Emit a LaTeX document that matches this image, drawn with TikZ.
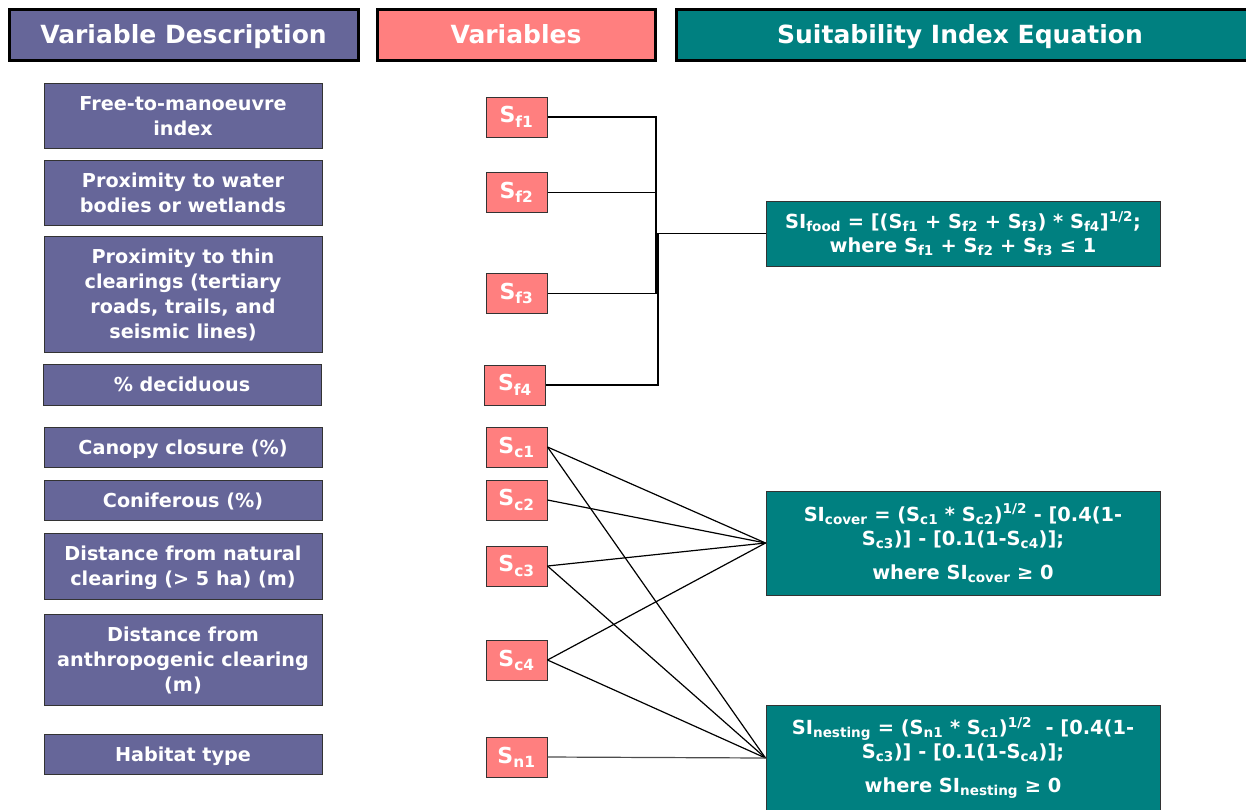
\documentclass[tikz,border=0pt]{standalone}
\usepackage{fontspec}
\setmainfont{DejaVu Sans}
\definecolor{descfill}{HTML}{666699}
\definecolor{varfill}{HTML}{FF7F7F}
\definecolor{eqfill}{HTML}{008080}
\definecolor{edgegray}{HTML}{333333}
\newcommand\lo[1]{\textsubscript{#1}}
\newcommand\hi[1]{\textsuperscript{#1}}
\begin{document}
\begin{tikzpicture}[x=1pt,y=-1pt,
  header/.style={draw=black,line width=3pt,inner sep=0pt,text=white,
    text depth=0pt,font=\fontsize{25}{30}\selectfont\bfseries},
  descbox/.style={draw=edgegray,line width=1pt,fill=descfill,inner sep=0pt,
    text=white,align=center,text depth=0pt,
    font=\fontsize{19.2}{25}\selectfont\bfseries},
  varbox/.style={draw=edgegray,line width=1pt,fill=varfill,inner sep=0pt,
    text=white,minimum width=61pt,minimum height=40pt,
    font=\fontsize{22}{25}\selectfont\bfseries},
  eqbox/.style={draw=edgegray,line width=1pt,fill=eqfill,inner sep=0pt,
    text=white,align=center,minimum width=394pt,
    font=\fontsize{19.4}{25}\selectfont\bfseries},
  link/.style={draw=black,line width=1.2pt}]
\useasboundingbox (0,0) rectangle (1246,809);

% column headers
\node[header,fill=descfill,minimum width=349pt,minimum height=51pt] (hdesc) at (183.5,34.5) {Variable Description};
\node[header,fill=varfill,minimum width=278pt,minimum height=51pt] (hvar) at (516,34.5) {Variables};
\node[header,fill=eqfill,minimum width=580pt,minimum height=51pt] (heq) at (966,34.5) {\hspace*{-12pt}Suitability Index Equation};

% variable descriptions
\node[descbox,minimum width=278pt,minimum height=65pt] (d1) at (183,115.5) {Free-to-manoeuvre\\index};
\node[descbox,minimum width=278pt,minimum height=65pt] (d2) at (183,192.5) {Proximity to water\\bodies or wetlands};
\node[descbox,minimum width=278pt,minimum height=116pt] (d3) at (183,294) {Proximity to thin\\clearings (tertiary\\roads, trails, and\\seismic lines)};
\node[descbox,minimum width=278pt,minimum height=41pt] (d4) at (182,384.5) {\% deciduous};
\node[descbox,minimum width=278pt,minimum height=40pt] (d5) at (183,447) {Canopy closure (\%)};
\node[descbox,minimum width=278pt,minimum height=40pt] (d6) at (183,500) {Coniferous (\%)};
\node[descbox,minimum width=278pt,minimum height=66pt] (d7) at (183,566) {Distance from natural\\clearing (> 5 ha) (m)};
\node[descbox,minimum width=278pt,minimum height=91pt] (d8) at (183,659.5) {Distance from\\anthropogenic clearing\\(m)};
\node[descbox,minimum width=278pt,minimum height=40pt] (d9) at (183,754) {Habitat type};

% variables
\node[varbox] (sf1) at (516.5,117) {S\lo{f1}};
\node[varbox] (sf2) at (516.5,192.5) {S\lo{f2}};
\node[varbox] (sf3) at (516.5,293.5) {S\lo{f3}};
\node[varbox] (sf4) at (515,385) {S\lo{f4}};
\node[varbox] (sc1) at (516.5,447) {S\lo{c1}};
\node[varbox] (sc2) at (516.5,500) {S\lo{c2}};
\node[varbox] (sc3) at (516.5,566) {S\lo{c3}};
\node[varbox] (sc4) at (516.5,660) {S\lo{c4}};
\node[varbox] (sn1) at (516.5,757) {S\lo{n1}};

% suitability index equations
\node[eqbox,minimum height=65pt] (food) at (963,233.5)
  {SI\lo{food} = [(S\lo{f1} + S\lo{f2} + S\lo{f3}) * S\lo{f4}]\hi{1/2};\\[-1pt]
   where S\lo{f1} + S\lo{f2} + S\lo{f3} ≤ 1};
\node[eqbox,minimum height=104pt] (cover) at (963,543)
  {SI\lo{cover} = (S\lo{c1} * S\lo{c2})\hi{1/2} - [0.4(1-\\[-1pt]
   S\lo{c3})] - [0.1(1-S\lo{c4})];\\[9pt]
   where SI\lo{cover} ≥ 0};
\node[eqbox,minimum height=106pt] (nest) at (963,758)
  {SI\lo{nesting} = (S\lo{n1} * S\lo{c1})\hi{1/2}\ \ - [0.4(1-\\[-1pt]
   S\lo{c3})] - [0.1(1-S\lo{c4})];\\[9pt]
   where SI\lo{nesting} ≥ 0};

% food links: bracket joining the four food variables
\coordinate (jtop) at (656,0);
\coordinate (jbot) at (658,0);
\draw[link] (sf1.east) -- (sf1.east -| jtop) -- (sf3.east -| jtop) -- (sf3.east);
\draw[link] (sf2.east) -- (sf2.east -| jtop);
\draw[link] (sf4.east) -- (sf4.east -| jbot) -- (food.west -| jbot) -- (food.west);

% cover links
\draw[link] (sc1.east) -- (cover.west);
\draw[link] (sc2.east) -- (cover.west);
\draw[link] (sc3.east) -- (cover.west);
\draw[link] (sc4.east) -- (cover.west);

% nesting links
\draw[link] (sc1.east) -- (nest.west);
\draw[link] (sc3.east) -- (nest.west);
\draw[link] (sc4.east) -- (nest.west);
\draw[link,draw=black!70] (sn1.east) -- (nest.west);
\end{tikzpicture}
\end{document}
